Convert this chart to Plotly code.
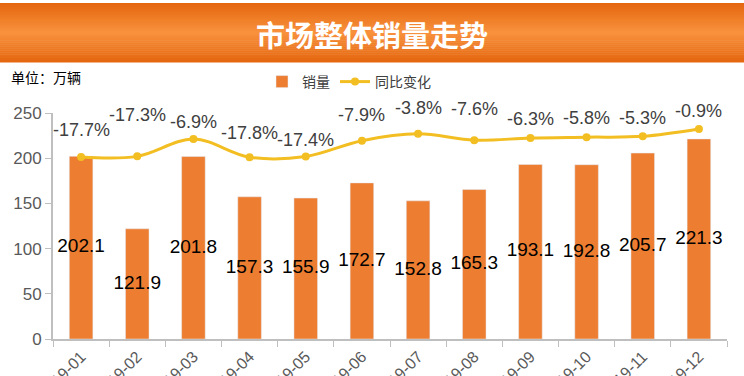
import plotly.graph_objects as go

months = ["2019-01", "2019-02", "2019-03", "2019-04", "2019-05", "2019-06",
          "2019-07", "2019-08", "2019-09", "2019-10", "2019-11", "2019-12"]
sales = [202.1, 121.9, 201.8, 157.3, 155.9, 172.7, 152.8, 165.3, 193.1, 192.8, 205.7, 221.3]
yoy = [-17.7, -17.3, -6.9, -17.8, -17.4, -7.9, -3.8, -7.6, -6.3, -5.8, -5.3, -0.9]

# label placement (pixels above each point), style only
yoy_label_shift = [27, 41, 17, 24, 17, 26, 26, 31, 19, 19, 18, 18]

W, H = 744, 376
L, R, T, B = 53, 17, 113, 37
ph = H - T - B

def py(p):  # pixel from top -> paper y
    return (H - B - p) / ph

def px(p):
    return (p - L) / (W - L - R)

BAR = "#ED7D31"
LINE = "#F2BE22"

fig = go.Figure()
fig.add_trace(go.Bar(x=months, y=sales, name="销量", marker_color=BAR, width=0.42))
fig.add_trace(go.Scatter(x=months, y=yoy, name="同比变化", yaxis="y2",
                         mode="lines+markers", line=dict(color=LINE, width=3, shape="spline"),
                         marker=dict(color=LINE, size=8)))
fig.add_trace(go.Scatter(x=months, y=[v / 2 for v in sales], mode="text",
                         text=[f"{v:.1f}" for v in sales], showlegend=False, hoverinfo="skip",
                         textfont=dict(size=19, color="#000000", family="Liberation Sans")))

for m, v, s in zip(months, yoy, yoy_label_shift):
    fig.add_annotation(x=m, y=v, xref="x", yref="y2", yshift=s, text=f"{v:.1f}%",
                       showarrow=False, yanchor="middle",
                       font=dict(size=18, color="#404040", family="Liberation Sans"))

# banner gradient
top_c = (229, 104, 16)
mid_c = (249, 146, 62)
n = 30
y0p, y1p = 3, 62
for i in range(n):
    t = i / (n - 1)
    f = 1 - abs(2 * t - 1)
    c = tuple(int(top_c[k] + (mid_c[k] - top_c[k]) * f) for k in range(3))
    a = y0p + (y1p - y0p) * i / n
    b = y0p + (y1p - y0p) * (i + 1) / n + 0.5
    fig.add_shape(type="rect", xref="paper", yref="paper", x0=px(0), x1=px(W),
                  y0=py(b), y1=py(a), fillcolor=f"rgb{c}", line_width=0, layer="below")

fig.add_annotation(text="<b>市场整体销量走势</b>", xref="paper", yref="paper", x=px(W / 2), y=py(34),
                   yanchor="middle", xanchor="center",
                   showarrow=False, font=dict(size=29, color="white", family="Noto Sans CJK SC"))
fig.add_annotation(text="单位：万辆", xref="paper", yref="paper", x=px(9), y=py(77), xanchor="left",
                   yanchor="middle",
                   showarrow=False, font=dict(size=14, color="#000000", family="Noto Sans CJK SC"))

fig.update_layout(
    width=W, height=H, margin=dict(l=L, r=R, t=T, b=B, autoexpand=False),
    paper_bgcolor="white", plot_bgcolor="white", bargap=0.58,
    font=dict(family="Liberation Sans, Noto Sans CJK SC", color="#595959"),
    legend=dict(orientation="h", xref="container", yref="container", x=262 / W, y=1 - 66 / H,
                xanchor="left", yanchor="top", font=dict(size=14, color="#404040", family="Noto Sans CJK SC"),
                itemwidth=30, bgcolor="rgba(0,0,0,0)"),
    xaxis=dict(type="category", range=[-0.5, len(months) - 0.5], showline=True, linecolor="#BFBFBF",
               linewidth=2, ticks="outside",
               tickcolor="#BFBFBF", ticklen=6, tickson="boundaries", tickangle=-45, automargin=False,
               tickfont=dict(size=16, color="#595959"), showgrid=False),
    yaxis=dict(range=[0, 250], dtick=50, showline=True, linecolor="#BFBFBF", linewidth=2,
               ticks="outside", tickcolor="#BFBFBF", ticklen=6, showgrid=False, zeroline=False,
               tickfont=dict(size=17, color="#595959"), automargin=False),
    yaxis2=dict(range=[-126.8, 8.7], overlaying="y", visible=False),
)

fig.write_html("out.html", config={"displayModeBar": False},
               post_script="document.body.style.margin='0';document.body.style.overflow='hidden';")
